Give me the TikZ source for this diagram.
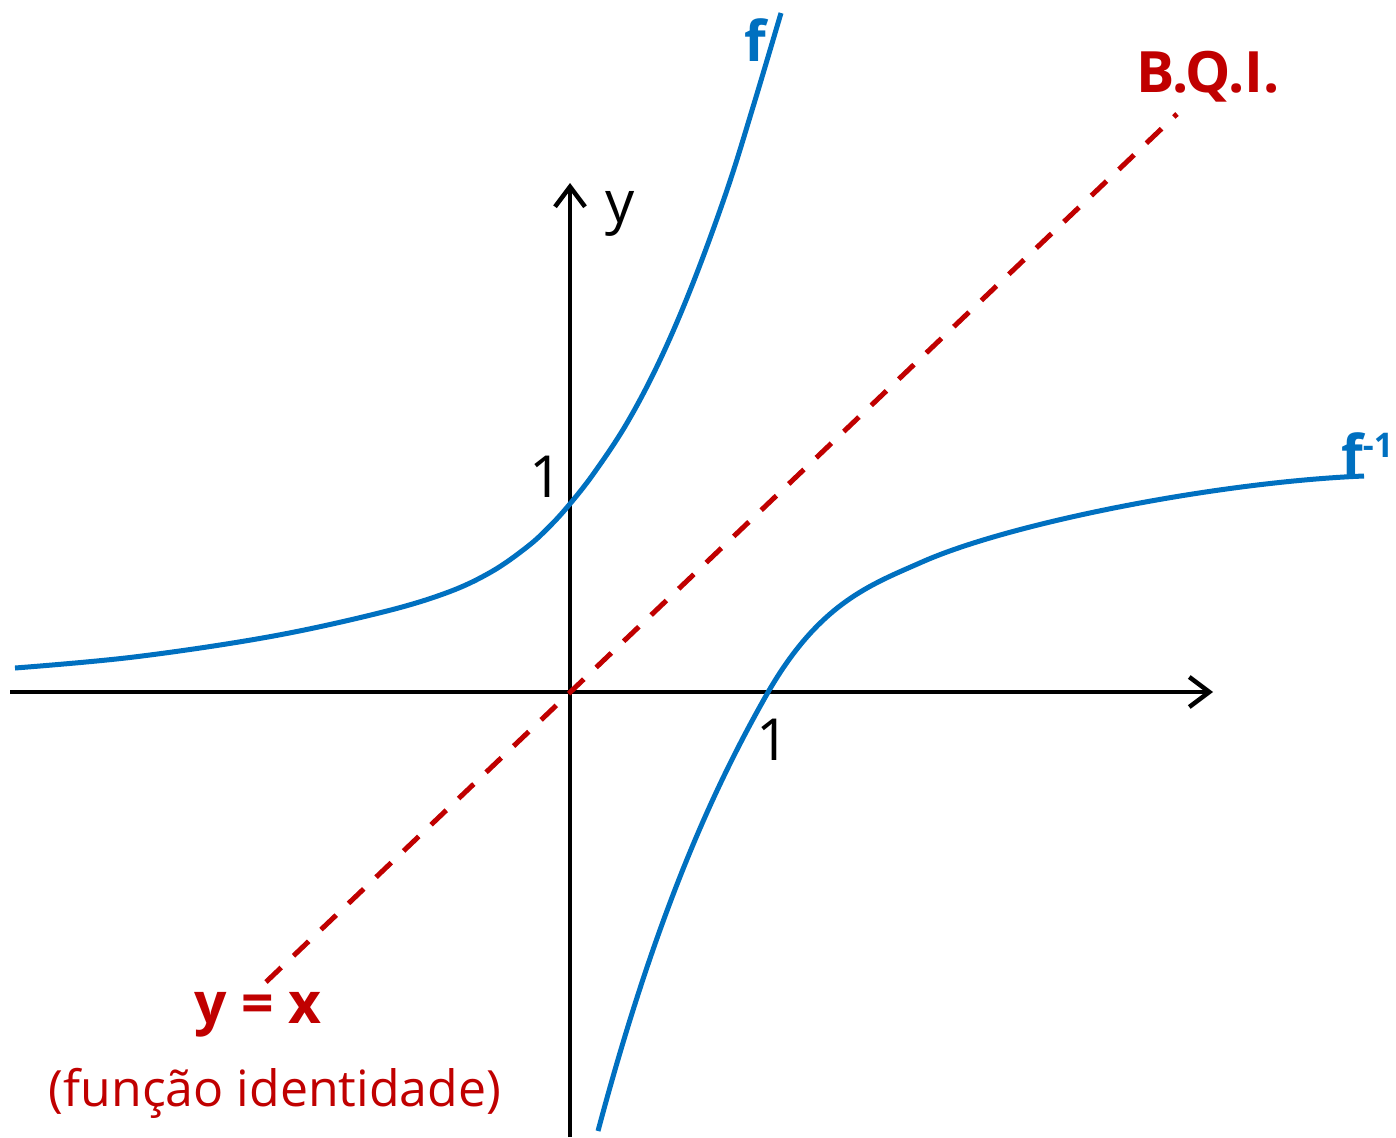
\documentclass[tikz,border=0pt]{standalone}
\usepackage{fontspec}
\setmainfont{Open Sans}
\usetikzlibrary{arrows.meta}
\definecolor{curveblue}{HTML}{0070C0}
\definecolor{darkred}{HTML}{C00000}
\tikzset{
  axis/.style={line width=4.5pt, black, -{Straight Barb[length=20pt,width=30pt]}},
  curve/.style={line width=5pt, curveblue},
  identity/.style={line width=5pt, darkred, dash pattern=on 21pt off 17pt},
  axlabel/.style={font=\fontsize{58}{60}\selectfont, text=black, inner sep=0pt},
  bluelabel/.style={font=\fontsize{56}{60}\selectfont\bfseries, text=curveblue, inner sep=0pt},
  redbold/.style={font=\fontsize{57}{60}\selectfont\bfseries, text=darkred, inner sep=0pt},
  redtext/.style={font=\fontsize{50}{60}\selectfont, text=darkred, inner sep=0pt}
}
\begin{document}
\begin{tikzpicture}[x=1pt, y=-1pt]
\useasboundingbox (0,0) rectangle (1396,1137);
% axes
\coordinate (xstart) at (10,692);
\coordinate (xend) at (1213,692);
\coordinate (ystart) at (570,1137);
\coordinate (yend) at (570,183);
\draw[axis] (xstart) -- (xend);
\draw[axis] (ystart) -- (yend);
% identity line
\coordinate (idlow) at (266,982);
\coordinate (idhigh) at (1177,114);
\draw[identity] (idlow) -- (idhigh);
% f
\draw[curve, smooth, tension=0.6] plot coordinates {(15,668) (134,657) (268,637) (379,613) (446,593) (491,572) (527,547) (549,527) (569,505) (594,473) (627,423) (660,360) (693,283) (727,190) (753,107) (781,13)};
% f^-1
\coordinate (g0) at (598,1131);
\coordinate (g1) at (767,694);
\coordinate (g2) at (922,562);
\coordinate (g3) at (1364,476);
\draw[curve] (g0) .. controls (658,906) and (717,782) .. (g1)
  .. controls (819,603) and (870,585) .. (g2)
  .. controls (1010,523) and (1217,482) .. (g3);
% labels
\node[axlabel, anchor=base] (ylab) at (620,222) {y};
\node[axlabel, anchor=base] (one_y) at (546,497) {1};
\node[axlabel, anchor=base] (one_x) at (773,760) {1};
\node[bluelabel, anchor=base] (flab) at (755,62) {f};
\node[bluelabel, anchor=base west, inner sep=0pt] (finv) at (1341,475) {f\raisebox{18pt}{\fontsize{34}{36}\selectfont -1}};
\node[redbold, anchor=base] (bqi) at (1208,93) {B.Q.I.};
\node[redbold, anchor=base] (yx) at (258,1023) {y = x};
\node[redtext, anchor=base] (ident) at (275,1106) {(função identidade)};
\end{tikzpicture}
\end{document}
